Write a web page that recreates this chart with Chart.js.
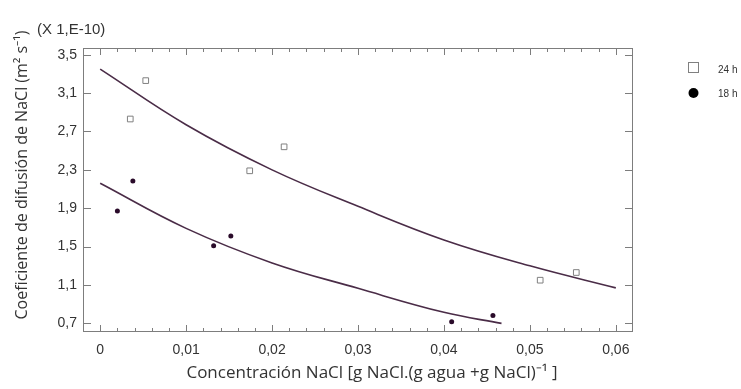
<!DOCTYPE html>
<html>
<head>
<meta charset="utf-8">
<script src="https://cdn.jsdelivr.net/npm/chart.js"></script>
<style>
  html, body { margin: 0; padding: 0; background: #fff; }
  #wrap { width: 741px; height: 389px; position: relative; }
</style>
</head>
<body>
<div id="wrap"><canvas id="grafico"></canvas></div>
<script>
// datos
const xTicks = [0, 0.01, 0.02, 0.03, 0.04, 0.05, 0.06];
const yTicks = [0.7, 1.1, 1.5, 1.9, 2.3, 2.7, 3.1, 3.5];

const x24 = [0.0035, 0.0053, 0.0174, 0.0214, 0.0512, 0.0554];
const y24 = [2.83, 3.23, 2.29, 2.54, 1.15, 1.23];
const x18 = [0.0020, 0.0038, 0.0132, 0.0152, 0.0409, 0.0457];
const y18 = [1.87, 2.185, 1.51, 1.61, 0.716, 0.783];

// curvas ajustadas
const xFit24 = [0, 0.01, 0.02, 0.03, 0.04, 0.05, 0.06];
const yFit24 = [3.35, 2.77, 2.30, 1.92, 1.57, 1.30, 1.07];
const xFit18 = [0, 0.01, 0.02, 0.03, 0.04, 0.0467];
const yFit18 = [2.16, 1.69, 1.33, 1.065, 0.815, 0.70];

const toPts = (xs, ys) => xs.map((x, i) => ({ x, y: ys[i] }));
const fmt = v => String(Math.round(v * 100) / 100).replace('.', ',');

const colors = {
  frame: '#7d7d7d',
  text: '#333333',
  curve: '#4a2c47',
  dot: '#2a0b2a',
  square: '#808080'
};

// marco, marcas interiores, títulos y leyenda
const decoPlugin = {
  id: 'deco',
  afterDraw(chart) {
    const { ctx, chartArea: a, scales } = chart;
    ctx.save();
    ctx.strokeStyle = colors.frame;
    ctx.lineWidth = 1;
    ctx.strokeRect(a.left + 0.5, a.top + 0.5, a.right - a.left - 1, a.bottom - a.top - 1);

    ctx.beginPath();
    // x: marcas mayores y menores, abajo y arriba
    for (let i = 0; i <= 30; i++) {
      const v = i * 0.002;
      const px = Math.round(scales.x.getPixelForValue(v)) + 0.5;
      const len = i % 5 === 0 ? 7 : 4;
      ctx.moveTo(px, a.bottom); ctx.lineTo(px, a.bottom - len);
      ctx.moveTo(px, a.top); ctx.lineTo(px, a.top + len);
    }
    // y: marcas mayores, izquierda y derecha
    yTicks.forEach(v => {
      const py = Math.round(scales.y.getPixelForValue(v)) + 0.5;
      ctx.moveTo(a.left, py); ctx.lineTo(a.left + 8, py);
      ctx.moveTo(a.right, py); ctx.lineTo(a.right - 8, py);
    });
    ctx.stroke();

    ctx.fillStyle = colors.text;
    // título eje x
    ctx.font = '17px "Open Sans", sans-serif';
    ctx.textAlign = 'center';
    ctx.textBaseline = 'middle';
    ctx.fillText('Concentración NaCl [g NaCl.(g agua +g NaCl)⁻¹ ]', 372, 373);

    // título eje y
    ctx.save();
    ctx.translate(22, 175);
    ctx.rotate(-Math.PI / 2);
    ctx.font = '16px "Open Sans", sans-serif';
    ctx.fillText('Coeficiente de difusión de NaCl (m² s⁻¹)', 0, 0);
    ctx.restore();

    ctx.font = '15px "Liberation Sans", Arial, sans-serif';
    ctx.textAlign = 'left';
    ctx.fillText('(X 1,E-10)', 37, 30);

    // leyenda
    ctx.strokeStyle = colors.square;
    ctx.strokeRect(688.5, 62.5, 10, 10);
    ctx.fillStyle = '#000';
    ctx.beginPath();
    ctx.arc(693.5, 93, 5, 0, Math.PI * 2);
    ctx.fill();
    ctx.fillStyle = colors.text;
    ctx.font = '10px "Liberation Sans", Arial, sans-serif';
    ctx.fillText('24 h', 718, 70);
    ctx.fillText('18 h', 718, 94);
    ctx.restore();
  }
};

new Chart(document.getElementById('grafico'), {
  type: 'scatter',
  data: {
    datasets: [
      {
        label: '24 h ajuste', type: 'line', data: toPts(xFit24, yFit24),
        borderColor: colors.curve, borderWidth: 1.6, pointRadius: 0,
        tension: 0.4, fill: false
      },
      {
        label: '18 h ajuste', type: 'line', data: toPts(xFit18, yFit18),
        borderColor: colors.curve, borderWidth: 1.6, pointRadius: 0,
        tension: 0.4, fill: false
      },
      {
        label: '24 h', data: toPts(x24, y24),
        pointStyle: 'rect', pointRadius: 4, borderWidth: 1,
        borderColor: colors.square, backgroundColor: '#fff'
      },
      {
        label: '18 h', data: toPts(x18, y18),
        pointStyle: 'circle', pointRadius: 2.5, borderWidth: 0,
        backgroundColor: colors.dot
      }
    ]
  },
  options: {
    responsive: true,
    maintainAspectRatio: false,
    animation: false,
    layout: { padding: { left: 0, right: 108, top: 48, bottom: 0 } },
    plugins: { legend: { display: false }, tooltip: { enabled: false } },
    scales: {
      x: {
        type: 'linear', min: -0.002, max: 0.062,
        afterFit: s => { s.height = 57; },
        afterBuildTicks: s => { s.ticks = xTicks.map(v => ({ value: v })); },
        grid: { display: false, drawTicks: false },
        border: { display: false },
        ticks: {
          padding: 10, color: colors.text,
          font: { family: '"Liberation Sans", Arial, sans-serif', size: 14 },
          callback: v => fmt(v)
        }
      },
      y: {
        type: 'linear', min: 0.61, max: 3.57,
        afterFit: s => { s.width = 83; },
        afterBuildTicks: s => { s.ticks = yTicks.map(v => ({ value: v })); },
        grid: { display: false, drawTicks: false },
        border: { display: false },
        ticks: {
          padding: 6, color: colors.text,
          font: { family: '"Liberation Sans", Arial, sans-serif', size: 14 },
          callback: v => fmt(v)
        }
      }
    }
  },
  plugins: [decoPlugin]
});
</script>
</body>
</html>
